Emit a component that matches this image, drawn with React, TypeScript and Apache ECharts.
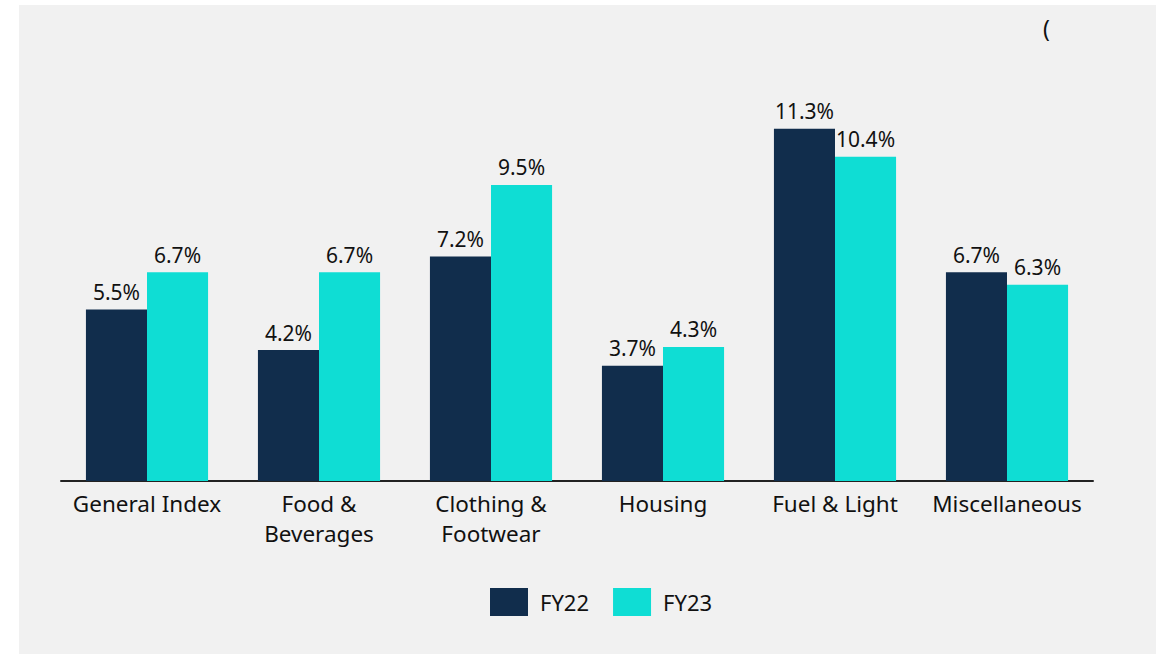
import React, { useEffect, useRef } from "react";
import * as echarts from "echarts";

const categories = ["General Index", "Food &\nBeverages", "Clothing &\nFootwear", "Housing", "Fuel & Light", "Miscellaneous"];
const fy22 = [5.5, 4.2, 7.2, 3.7, 11.3, 6.7];
const fy23 = [6.7, 6.7, 9.5, 4.3, 10.4, 6.3];
const seriesNames = ["FY22", "FY23"];

const FONT = "'Noto Sans', sans-serif";

export default function App() {
  const ref = useRef<HTMLDivElement>(null);
  useEffect(() => {
    if (!ref.current) return;
    const chart = echarts.init(ref.current, null, { renderer: "svg" });
    const labelCfg = {
      show: true,
      position: "top" as const,
      distance: 7,
      formatter: (p: any) => p.value.toFixed(1) + "%",
      color: "#111",
      fontSize: 21,
      fontFamily: FONT,
    };
    chart.setOption({
      animation: false,
      backgroundColor: "#ffffff",
      graphic: [
        { type: "rect", z: -10, shape: { x: 19, y: 5, width: 1137, height: 649 }, style: { fill: "#f1f1f1" } },
        { type: "text", left: 1043, top: 16, style: { text: "(", fontSize: 23, fontFamily: FONT, fill: "#111" } },
      ],
      grid: { left: 61, right: 63, top: 107, bottom: 173, containLabel: false },
      legend: {
        data: seriesNames,
        bottom: 33,
        left: 485,
        itemWidth: 38,
        itemHeight: 28,
        itemGap: 24,
        icon: "rect",
        textStyle: { fontSize: 22, fontFamily: FONT, color: "#111", padding: [0, 0, 0, 7] },
      },
      xAxis: {
        type: "category",
        data: categories,
        axisLine: { show: true, lineStyle: { color: "#222", width: 2 } },
        axisTick: { show: false },
        axisLabel: { fontSize: 22.5, fontFamily: FONT, color: "#111", lineHeight: 30, margin: 7, interval: 0 },
      },
      yAxis: {
        type: "value",
        min: 0,
        max: 12,
        show: false,
        splitLine: { show: false },
      },
      series: [
        {
          name: seriesNames[0],
          type: "bar",
          data: fy22,
          itemStyle: { color: "#112d4c" },
          barGap: "0%",
          barCategoryGap: "29%",
          label: labelCfg,
        },
        {
          name: seriesNames[1],
          type: "bar",
          data: fy23,
          itemStyle: { color: "#0fddd4" },
          barGap: "0%",
          barCategoryGap: "29%",
          label: labelCfg,
        },
      ],
    });
    return () => chart.dispose();
  }, []);
  return (
    <div
      ref={ref}
      style={{ position: "absolute", left: 0, top: 0, width: 1156, height: 654 }}
    />
  );
}
